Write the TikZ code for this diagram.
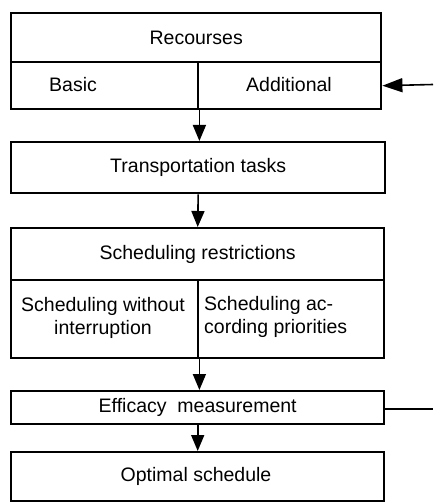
\documentclass[tikz,border=0pt]{standalone}
\usepackage{fontspec}
\setmainfont{Liberation Sans}
\usetikzlibrary{arrows.meta}
\begin{document}
\begin{tikzpicture}[x=1pt,y=-1pt,
  cell/.style={draw, line width=2.4pt, anchor=north west, inner sep=0pt,
    font=\fontsize{19.5}{23.5}\selectfont},
  lbl/.style={inner sep=0pt, font=\fontsize{19.5}{23.5}\selectfont},
  arr/.style={line width=1.6pt, -{Triangle[length=16pt,width=13pt]}},
  feed/.style={line width=1.4pt}]
\useasboundingbox (0,0) rectangle (433,502);
% Resources block
\node[cell, minimum width=370pt, minimum height=49pt] (res) at (10,12) {Recourses};
\node[cell, minimum width=187pt, minimum height=47pt] (basic) at (10,61) {};
\node[cell, minimum width=183pt, minimum height=47pt] (addl) at (197,61) {};
\node[lbl] (basict) at (73,85) {Basic};
\node[lbl] (addlt) at (289,85) {Additional};
% Transportation tasks
\node[cell, minimum width=374pt, minimum height=51pt] (trans) at (10,141) {Transportation tasks};
% Scheduling restrictions block
\node[cell, minimum width=373pt, minimum height=52pt] (restr) at (10,227) {Scheduling restrictions};
\node[cell, minimum width=187pt, minimum height=78pt] (nointr) at (10,279) {};
\node[cell, minimum width=186pt, minimum height=78pt] (prio) at (197,279) {};
\node[lbl, align=center] (nointrt) at (103,318) {Scheduling without\\interruption};
\node[lbl, align=left, anchor=west] (priot) at (204,317) {Scheduling ac-\\cording priorities};
% Efficacy measurement
\node[cell, minimum width=373pt, minimum height=33pt] (eff) at (10,390) {Efficacy\ \ measurement};
% Optimal schedule
\node[cell, minimum width=373pt, minimum height=49pt] (opt) at (10,451) {};
\node[lbl] (optt) at (196,476) {Optimal schedule};
% connectors
\draw[arr] (basic.south east) -- (basic.south east |- trans.north);
\draw[arr] (trans.south) -- (restr.north);
\draw[arr] (nointr.south east) -- (nointr.south east |- eff.north);
\draw[arr] (eff.south) -- (opt.north);
\coordinate (inA) at (433,84.5);
\draw[arr, -{Triangle[length=20pt,width=14pt]}] (inA) -- (addl.east);
\coordinate (outE) at (433,409);
\draw[feed] (eff.east |- outE) -- (outE);
\end{tikzpicture}
\end{document}
